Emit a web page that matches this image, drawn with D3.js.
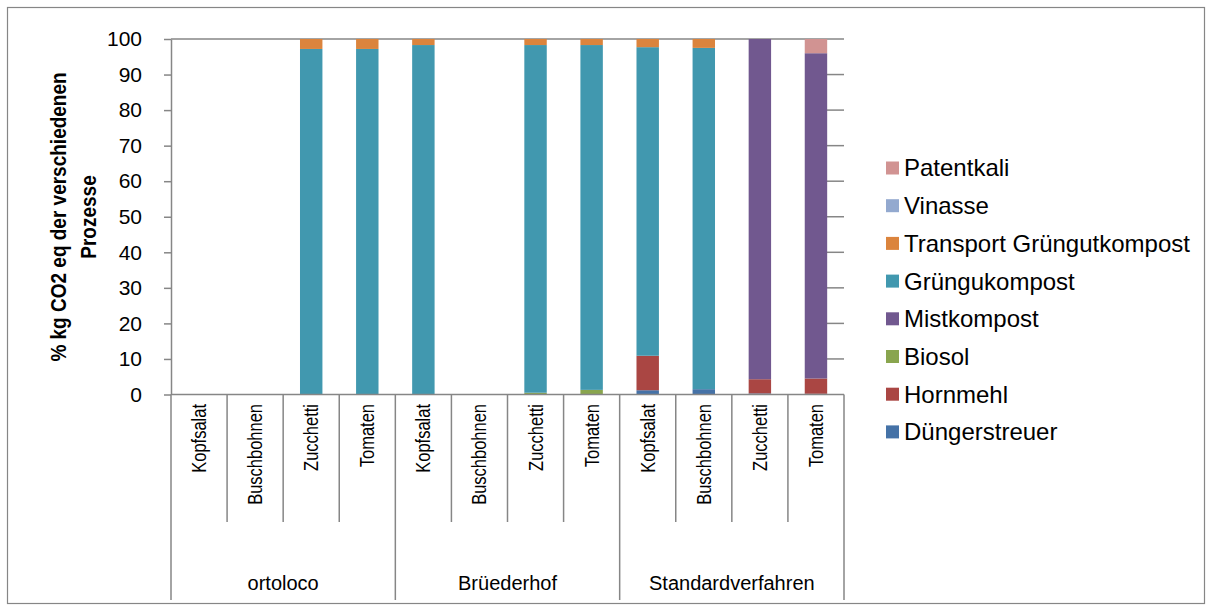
<!DOCTYPE html>
<html>
<head>
<meta charset="utf-8">
<script src="https://cdn.jsdelivr.net/npm/d3@7/dist/d3.min.js"></script>
<style>
  html, body { margin: 0; padding: 0; background: #fff; }
  svg { display: block; font-family: "Liberation Sans", Arial, sans-serif; }
</style>
</head>
<body>
<svg id="chart" width="1212" height="610"></svg>
<script>
// Groups and crops along the x axis
const groups = ["ortoloco", "Brüederhof", "Standardverfahren"];
const crops = ["Kopfsalat", "Buschbohnen", "Zucchetti", "Tomaten"];

// Processes, stacked bottom to top
const processes = ["Düngerstreuer", "Hornmehl", "Biosol", "Mistkompost",
  "Grüngukompost", "Transport Grüngutkompost", "Vinasse", "Patentkali"];
const colors = ["#4572A7", "#AA4643", "#89A54E", "#71588F",
  "#4198AF", "#DB843D", "#93A9CF", "#D19392"];

// Share (%) of each process, one value per bar (12 bars: group x crop)
const duengerstreuer = [0, 0, 0, 0,   0, 0, 0, 0,       1.2, 1.5, 0.3, 0.2];
const hornmehl       = [0, 0, 0, 0,   0, 0, 0, 0,       9.7, 0, 4.0, 4.3];
const biosol         = [0, 0, 0, 0,   0, 0, 0.5, 1.3,   0, 0, 0, 0];
const mistkompost    = [0, 0, 0, 0,   0, 0, 0, 0,       0, 0, 95.7, 91.5];
const gruengukompost = [0, 0, 97.2, 97.2, 98.3, 0, 97.8, 97.0, 86.8, 96.0, 0, 0];
const transport      = [0, 0, 2.8, 2.8, 1.7, 0, 1.7, 1.7, 2.3, 2.5, 0, 0];
const vinasse        = [0, 0, 0, 0,   0, 0, 0, 0,       0, 0, 0, 0];
const patentkali     = [0, 0, 0, 0,   0, 0, 0, 0,       0, 0, 0, 4.0];

const seriesValues = [duengerstreuer, hornmehl, biosol, mistkompost,
  gruengukompost, transport, vinasse, patentkali];

const yTicks = [0, 10, 20, 30, 40, 50, 60, 70, 80, 90, 100];
const yTitle = ["% kg CO2 eq der verschiedenen", "Prozesse"];

// Table of bars for the stack layout
const bars = [];
groups.forEach((g, gi) => crops.forEach((c, ci) => {
  const i = gi * crops.length + ci;
  const row = { key: g + "|" + c, group: g, crop: c };
  processes.forEach((p, pi) => { row[p] = seriesValues[pi][i]; });
  bars.push(row);
}));

const svg = d3.select("#chart");
const axisColor = "#868686";
const plotLeft = 171, plotRight = 844, plotTop = 39, plotBottom = 394.5;

// Outer frame
svg.append("rect")
  .attr("x", 7.5).attr("y", 7.5).attr("width", 1197).attr("height", 596)
  .attr("fill", "none").attr("stroke", axisColor).attr("stroke-width", 1.2);

const x = d3.scaleBand().domain(bars.map(d => d.key)).range([plotLeft, plotRight]).paddingInner(0).paddingOuter(0);
const y = d3.scaleLinear().domain([0, 100]).range([plotBottom, plotTop]);
const barW = x.bandwidth() * 0.4;

// Short tick stubs at the right edge of the plot
svg.append("g").selectAll("line").data(yTicks.slice(1, -1)).join("line")
  .attr("x1", plotRight - 17).attr("x2", plotRight)
  .attr("y1", d => y(d)).attr("y2", d => y(d))
  .attr("stroke", axisColor).attr("stroke-width", 1.5);

// Top line at 100
svg.append("line")
  .attr("x1", plotLeft).attr("x2", plotRight).attr("y1", y(100)).attr("y2", y(100))
  .attr("stroke", axisColor).attr("stroke-width", 1.5);

// Stacked bars
const stack = d3.stack().keys(processes)(bars);
svg.append("g").selectAll("g").data(stack).join("g")
  .attr("fill", (d, i) => colors[i])
  .selectAll("rect").data(d => d).join("rect")
  .attr("x", d => x(d.data.key) + (x.bandwidth() - barW) / 2)
  .attr("width", barW)
  .attr("y", d => y(d[1]))
  .attr("height", d => y(d[0]) - y(d[1]));

// Y axis
const yAxis = svg.append("g").attr("transform", `translate(${plotLeft},0)`)
  .call(d3.axisLeft(y).tickValues(yTicks).tickSize(7).tickPadding(22).tickSizeOuter(0));
yAxis.select(".domain").attr("stroke", axisColor).attr("stroke-width", 1.5);
yAxis.selectAll(".tick line").attr("stroke", axisColor).attr("stroke-width", 1.5);
yAxis.selectAll(".tick text").attr("font-size", 21).attr("fill", "#000")
  .attr("font-family", "Liberation Sans, Arial, sans-serif");

// X axis baseline
svg.append("line")
  .attr("x1", plotLeft).attr("x2", plotRight).attr("y1", plotBottom).attr("y2", plotBottom)
  .attr("stroke", axisColor).attr("stroke-width", 1.5);

// Category dividers (crop level short, group level long)
const boundaries = d3.range(bars.length + 1);
svg.append("g").selectAll("line").data(boundaries).join("line")
  .attr("x1", i => i < bars.length ? x(bars[i].key) : plotRight)
  .attr("x2", i => i < bars.length ? x(bars[i].key) : plotRight)
  .attr("y1", plotBottom)
  .attr("y2", i => i % crops.length === 0 ? 600 : 522)
  .attr("stroke", axisColor).attr("stroke-width", 1.5);

// Crop labels, rotated (glyphs widened across the band)
svg.append("g").selectAll("text").data(bars).join("text")
  .attr("transform", d => `translate(${x(d.key) + x.bandwidth() / 2 + 7},404) rotate(-90) scale(1,1.25)`)
  .attr("text-anchor", "end")
  .attr("font-size", 16.5)
  .text(d => d.crop);

// Group labels
svg.append("g").selectAll("text").data(groups).join("text")
  .attr("x", (g, gi) => (x(bars[gi * crops.length].key) + x(bars[gi * crops.length + crops.length - 1].key) + x.bandwidth()) / 2)
  .attr("y", 590)
  .attr("text-anchor", "middle")
  .attr("font-size", 20)
  .text(g => g);

// Y axis title
const title = svg.append("text")
  .attr("transform", `translate(66,217) rotate(-90) scale(1,1.15)`)
  .attr("text-anchor", "middle")
  .attr("font-size", 19).attr("font-weight", "bold");
title.selectAll("tspan").data(yTitle).join("tspan")
  .attr("x", 0).attr("dy", (d, i) => i === 0 ? 0 : 26)
  .text(d => d);

// Legend, top entry is the last stacked series
const legendOrder = processes.slice().reverse();
const legend = svg.append("g").selectAll("g").data(legendOrder).join("g")
  .attr("transform", (d, i) => `translate(886,${168 + i * 37.7})`);
legend.append("rect")
  .attr("x", 0).attr("y", -6.5).attr("width", 13).attr("height", 13)
  .attr("fill", d => colors[processes.indexOf(d)]);
legend.append("text")
  .attr("x", 18).attr("y", 0).attr("dy", "0.35em")
  .attr("font-size", 24)
  .text(d => d);
</script>
</body>
</html>
